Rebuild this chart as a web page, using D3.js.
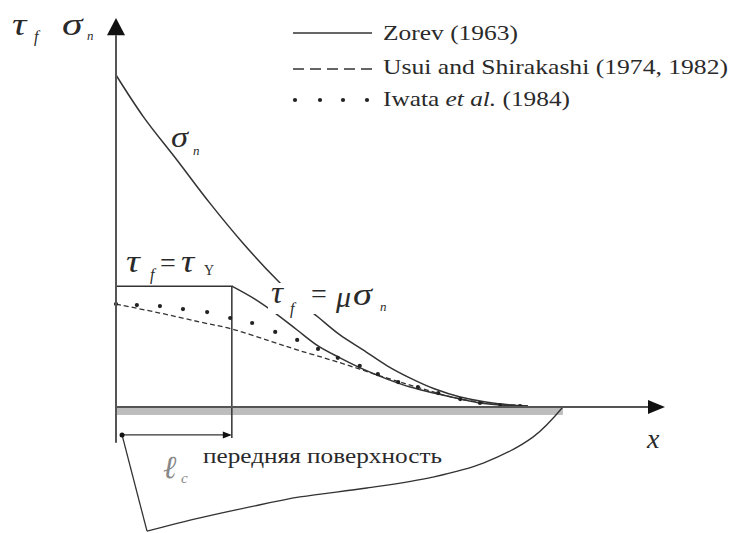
<!DOCTYPE html>
<html><head><meta charset="utf-8">
<script src="https://cdn.jsdelivr.net/npm/d3@7"></script>
<style>
html,body{margin:0;padding:0;background:#fff;}
svg{display:block;}
text{fill:#2a2a2a;}
.it{font-style:italic;}
</style></head>
<body>
<svg id="c" width="729" height="533" font-family="'Liberation Serif','Times New Roman',Tinos,'Noto Serif',serif"></svg>
<script>
// ---- data (schematic units: x along rake face, y stress) ----
const legendLabels = ["Zorev (1963)", "Usui and Shirakashi (1974, 1982)", "Iwata et al. (1984)"];
const contactLength = 21.1;   // ℓc
const tauY = 36.4;            // τf = τY plateau
const sigmaN = [[0,100],[5,87.4],[11.1,74.4],[17.1,61.4],[23.1,49.4],[29.3,38.3],[33.5,31.6],[36.8,27.1],[40.8,21.7],[45,17.2],[49.4,12.4],[53.6,8.7],[58.1,5.4],[62.7,3],[66.3,1.8],[70,0.9],[75,0.3]];
const zorevTau = [[21.1,36.4],[25.3,32.5],[29,28.3],[33,23.2],[36.8,18.4],[40.8,14.8],[45,11.4],[49.4,8.4],[53.6,6],[58.7,3.9],[62.7,2.4],[66.3,1.2],[70,0.6],[75,0.3]];
const usuiTau = [[0,31],[8,28.3],[15.3,25.6],[21.1,23.5],[28,19.9],[33,17.2],[40.3,13.6],[49.4,8.7],[55.4,5.7],[62.7,2.4],[70,0.9],[75,0.3]];
const iwataTau = [[0,31],[3.8,30.7],[8,30.4],[12.2,29.5],[16.6,28.6],[20.8,26.8],[24.8,25.3],[29,22.6],[33,20.2],[36.8,17.5],[40.4,14.8],[44.4,12.4],[47.7,9.9],[51.4,7.5],[55,6],[58.7,4.2],[62.7,2.4],[66.3,1.2],[70,0.6],[73.6,0.3]];
const toolContour = [[1.1,-8.4],[5.65,-37.4],[15.3,-33.4],[24.4,-30.1],[33.5,-27.1],[45.7,-24.4],[57.7,-21.1],[66.9,-16.9],[76,-9],[81.4,0]];
const toolEnd = 81.4;

const svg = d3.select("#c");
const x = d3.scaleLinear().domain([0,100]).range([116,665]);
const y = d3.scaleLinear().domain([0,100]).range([407,75]);
const ink = "#333";

// gray band under the rake face
svg.append("rect").attr("x", x(0)).attr("y", y(0)).attr("width", x(toolEnd)-x(0)).attr("height", y(-2.4)-y(0)).attr("fill","#bdbdbd");

const curve = d3.line().x(d=>x(d[0])).y(d=>y(d[1])).curve(d3.curveCatmullRom.alpha(0.5));
const straight = d3.line().x(d=>x(d[0])).y(d=>y(d[1]));

// tool contour
svg.append("path").attr("d", straight(toolContour.slice(0,2))).attr("fill","none").attr("stroke",ink).attr("stroke-width",1.3);
svg.append("path").attr("d", curve(toolContour.slice(1))).attr("fill","none").attr("stroke",ink).attr("stroke-width",1.3);
// sigma_n
svg.append("path").attr("d", curve(sigmaN)).attr("fill","none").attr("stroke",ink).attr("stroke-width",1.5);
// Zorev plateau and contact-length boundary
svg.append("path").attr("d", straight([[0,tauY],[contactLength,tauY],[contactLength,-9.3]])).attr("fill","none").attr("stroke",ink).attr("stroke-width",1.5);
svg.append("path").attr("d", curve(zorevTau)).attr("fill","none").attr("stroke",ink).attr("stroke-width",1.5);
// Usui & Shirakashi
svg.append("path").attr("d", curve(usuiTau)).attr("fill","none").attr("stroke",ink).attr("stroke-width",1.3).attr("stroke-dasharray","5,3");
// Iwata et al.
svg.selectAll("circle.iw").data(iwataTau).join("circle").attr("class","iw")
  .attr("cx",d=>x(d[0])).attr("cy",d=>y(d[1])).attr("r",2.1).attr("fill","#222");

// axes with arrows
svg.append("line").attr("x1",x(0)).attr("x2",x(0)).attr("y1",y(-10.8)).attr("y2",y(112)).attr("stroke","#555").attr("stroke-width",2);
svg.append("path").attr("d",`M${x(0)},${y(117.2)} L${x(0)-9},${y(112)} L${x(0)+9},${y(112)} Z`).attr("fill","#111");
svg.append("line").attr("x1",x(0)).attr("x2",x(97)).attr("y1",y(0)).attr("y2",y(0)).attr("stroke","#555").attr("stroke-width",2);
svg.append("path").attr("d",`M${x(100)},${y(0)} L${x(96.9)},${y(0)-7} L${x(96.9)},${y(0)+7} Z`).attr("fill","#111");

// ℓc dimension line
svg.append("line").attr("x1",x(1.1)).attr("x2",x(contactLength)-6).attr("y1",y(-8.4)).attr("y2",y(-8.4)).attr("stroke",ink).attr("stroke-width",1.3);
svg.append("path").attr("d",`M${x(contactLength)},${y(-8.4)} L${x(contactLength)-9},${y(-8.4)-3.5} L${x(contactLength)-9},${y(-8.4)+3.5} Z`).attr("fill","#111");
svg.append("circle").attr("cx",x(1.1)).attr("cy",y(-8.4)).attr("r",2.5).attr("fill","#111");

// white gap in sigma_n behind the label
svg.append("rect").attr("x",268).attr("y",283).attr("width",128).attr("height",31).attr("fill","#fff");

function txt(s, px, py, size, cls, fill, len){
  const t = svg.append("text").attr("x",px).attr("y",py).attr("font-size",size).text(s);
  if(cls) t.attr("class",cls);
  if(fill) t.style("fill",fill);
  if(len) t.attr("textLength",len).attr("lengthAdjust","spacingAndGlyphs");
  return t;
}
function greek(s, px, py, size, sx){
  return svg.append("text").attr("transform",`translate(${px},${py}) scale(${sx||1.2},1)`)
    .attr("font-size",size).attr("class","it").text(s);
}
// axis labels
greek("τ",12,35,32,1.25);
txt("f",34,42,16,"it");
greek("σ",62,35,32,1.3);
txt("n",87,40,13,"it");
// σn label
greek("σ",171,147,30,1.15);
txt("n",193,155,13,"it");
// τf = τY
greek("τ",126,272,32,1.2);
txt("f",150,280,16,"it");
txt("=",160,272,28,null);
greek("τ",181,272,32,1.15);
txt("Y",204,275,14,null);
// τf = μσn
greek("τ",271,303,32,1.05);
txt("f",290,314,16,"it");
txt("=",311,303,28,null);
greek("μ",336,307,30,1.0);
greek("σ",353,305,32,1.2);
txt("n",380,311,13,"it");
// x label
txt("x",647,448,28,"it");
// ℓc
txt("ℓ",163,478,32,"it","#888");
txt("c",181,483,15,"it","#888");
// rake face label
txt("передняя поверхность",203,463,22,null,null,239);

// legend
svg.append("line").attr("x1",293).attr("x2",372).attr("y1",33).attr("y2",33).attr("stroke",ink).attr("stroke-width",1.3);
svg.append("line").attr("x1",293).attr("x2",372).attr("y1",69).attr("y2",69).attr("stroke",ink).attr("stroke-width",1.3).attr("stroke-dasharray","11,6");
svg.selectAll("circle.lg").data([295,320,343,367]).join("circle").attr("class","lg").attr("cx",d=>d).attr("cy",100).attr("r",2.1).attr("fill","#222");
txt(legendLabels[0],383,40,22,null,null,135);
txt(legendLabels[1],383,74,22,null,null,345);
const t3 = svg.append("text").attr("x",383).attr("y",106).attr("font-size",22).attr("textLength",187).attr("lengthAdjust","spacingAndGlyphs");
t3.append("tspan").text("Iwata ");
t3.append("tspan").attr("font-style","italic").text("et al.");
t3.append("tspan").text(" (1984)");
</script>
</body></html>
